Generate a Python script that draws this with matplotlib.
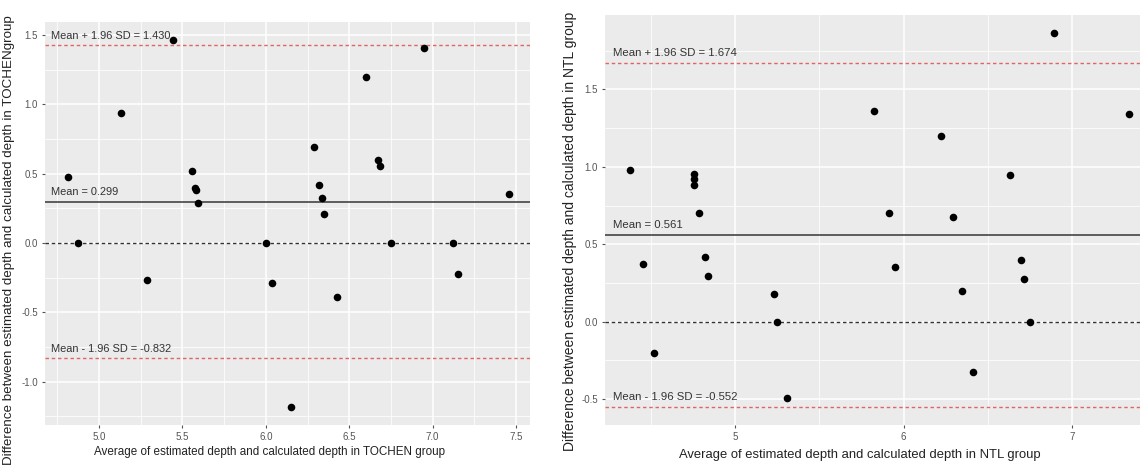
import matplotlib
matplotlib.use("Agg")
import matplotlib.pyplot as plt
from matplotlib.ticker import FixedLocator

plt.rcParams['axes.unicode_minus'] = False
FONT = ['Liberation Sans', 'DejaVu Sans']
plt.rcParams['font.family'] = FONT

# ---- Data: TOCHEN group (left panel) ----
tochen_avg = [4.816, 5.132, 5.444, 5.558, 5.578, 5.582, 5.594, 4.876, 5.286, 6.000,
              6.035, 6.151, 6.950, 6.601, 6.287, 6.675, 6.683, 6.320, 6.335, 6.351,
              7.458, 6.752, 7.122, 7.154, 6.429]
tochen_diff = [0.474, 0.937, 1.464, 0.519, 0.399, 0.380, 0.286, 0.000, -0.267, 0.000,
               -0.291, -1.180, 1.404, 1.199, 0.690, 0.598, 0.555, 0.421, 0.327, 0.207,
               0.356, 0.000, 0.000, -0.224, -0.392]
tochen_mean = 0.299
tochen_upper = 1.430
tochen_lower = -0.832

# ---- Data: NTL group (right panel) ----
ntl_avg = [4.378, 4.757, 4.757, 4.757, 4.787, 4.455, 4.820, 4.838, 5.229, 5.249,
           4.522, 5.308, 6.890, 5.825, 7.332, 6.222, 6.627, 5.912, 6.291, 5.948,
           6.697, 6.713, 6.343, 6.751, 6.410]
ntl_diff = [0.980, 0.954, 0.920, 0.883, 0.704, 0.375, 0.420, 0.297, 0.179, 0.000,
            -0.202, -0.491, 1.864, 1.363, 1.341, 1.201, 0.949, 0.704, 0.676, 0.351,
            0.400, 0.278, 0.198, 0.000, -0.325]
ntl_mean = 0.561
ntl_upper = 1.674
ntl_lower = -0.552

left_xticks = [5.0, 5.5, 6.0, 6.5, 7.0, 7.5]
left_yticks = [-1.0, -0.5, 0.0, 0.5, 1.0, 1.5]
right_xticks = [5, 6, 7]
right_yticks = [-0.5, 0.0, 0.5, 1.0, 1.5]

left_xlabel = 'Average of estimated depth and calculated depth in TOCHEN group'
left_ylabel = 'Difference between estimated depth and calculated depth in TOCHENgroup'
right_xlabel = 'Average of estimated depth and calculated depth in NTL group'
right_ylabel = 'Difference between estimated depth and calculated depth in NTL group'

W, H = 1140, 472
fig = plt.figure(figsize=(W / 100, H / 100), dpi=100)
fig.patch.set_facecolor('white')

def px_axes(x0, x1, ytop, ybot):
    return fig.add_axes([x0 / W, (H - ybot) / H, (x1 - x0) / W, (ybot - ytop) / H])

def ftext(x, y, s, **kw):
    fig.text(x / W, (H - y) / H, s, **kw)

RED = '#E06666'
TXT = '#333333'

def style(ax, xticks, yticks, xminor, yminor, xfmt, yfmt):
    ax.set_facecolor('#EBEBEB')
    for s in ax.spines.values():
        s.set_visible(False)
    ax.set_xticks(xticks)
    ax.set_yticks(yticks)
    ax.set_xticklabels([xfmt.format(v) for v in xticks])
    ax.set_yticklabels([yfmt.format(v) for v in yticks])
    ax.xaxis.set_minor_locator(FixedLocator(xminor))
    ax.yaxis.set_minor_locator(FixedLocator(yminor))
    ax.grid(which='major', color='white', linewidth=1.1)
    ax.grid(which='minor', color='white', linewidth=0.55)
    ax.set_axisbelow(True)
    ax.tick_params(which='major', length=2.5, width=0.8, color='#555555',
                   labelcolor='#555555', labelsize=7, pad=2.5)
    ax.tick_params(which='minor', length=0)

def draw(ax, avg, diff, mean, upper, lower, labx, off, fs):
    ax.axhline(0.0, color='#333333', linewidth=1.0, linestyle=(0, (2.5, 2.0)), zorder=2)
    ax.axhline(upper, color=RED, linewidth=1.0, linestyle=(0, (2.5, 2.0)), zorder=2)
    ax.axhline(lower, color=RED, linewidth=1.0, linestyle=(0, (2.5, 2.0)), zorder=2)
    ax.axhline(mean, color='#444444', linewidth=1.2, zorder=2)
    ax.scatter(avg, diff, s=30, color='black', zorder=3, linewidths=0)
    kw = dict(xycoords='data', textcoords='offset points', ha='left', va='center',
              fontsize=fs, color=TXT, zorder=4)
    ax.annotate('Mean + 1.96 SD = {:.3f}'.format(upper), (labx, upper), xytext=(0, off), **kw)
    ax.annotate('Mean = {:.3f}'.format(mean), (labx, mean), xytext=(0, off), **kw)
    ax.annotate('Mean - 1.96 SD = {:.3f}'.format(lower), (labx, lower), xytext=(0, off), **kw)

# Left panel
axL = px_axes(45, 530, 22, 425)
style(axL, left_xticks, left_yticks,
      [4.75, 5.25, 5.75, 6.25, 6.75, 7.25],
      [-1.25, -0.75, -0.25, 0.25, 0.75, 1.25],
      '{:.1f}', '{:.1f}')
axL.set_xlim(4.676, 7.584)
axL.set_ylim(-1.312, 1.593)
draw(axL, tochen_avg, tochen_diff, tochen_mean, tochen_upper, tochen_lower, 4.71, 6.5, 7.9)
ftext(270, 452, left_xlabel, ha='center', va='center', fontsize=8.4, color='#222222')
ftext(9, 240, left_ylabel, ha='center', va='center', rotation=90, fontsize=9.6, color='#222222')

# Right panel
axR = px_axes(605, 1140, 15, 425)
style(axR, right_xticks, right_yticks,
      [4.5, 5.5, 6.5],
      [-0.25, 0.25, 0.75, 1.25, 1.75],
      '{:d}', '{:.1f}')
axR.set_xlim(4.23, 7.40)
axR.set_ylim(-0.667, 1.981)
draw(axR, ntl_avg, ntl_diff, ntl_mean, ntl_upper, ntl_lower, 4.275, 7.0, 8.2)
ftext(860, 455, right_xlabel, ha='center', va='center', fontsize=9.4, color='#222222')
ftext(570, 231, right_ylabel, ha='center', va='center', rotation=90, fontsize=10, color='#222222')

fig.savefig('out.png', dpi=100, facecolor='white')
